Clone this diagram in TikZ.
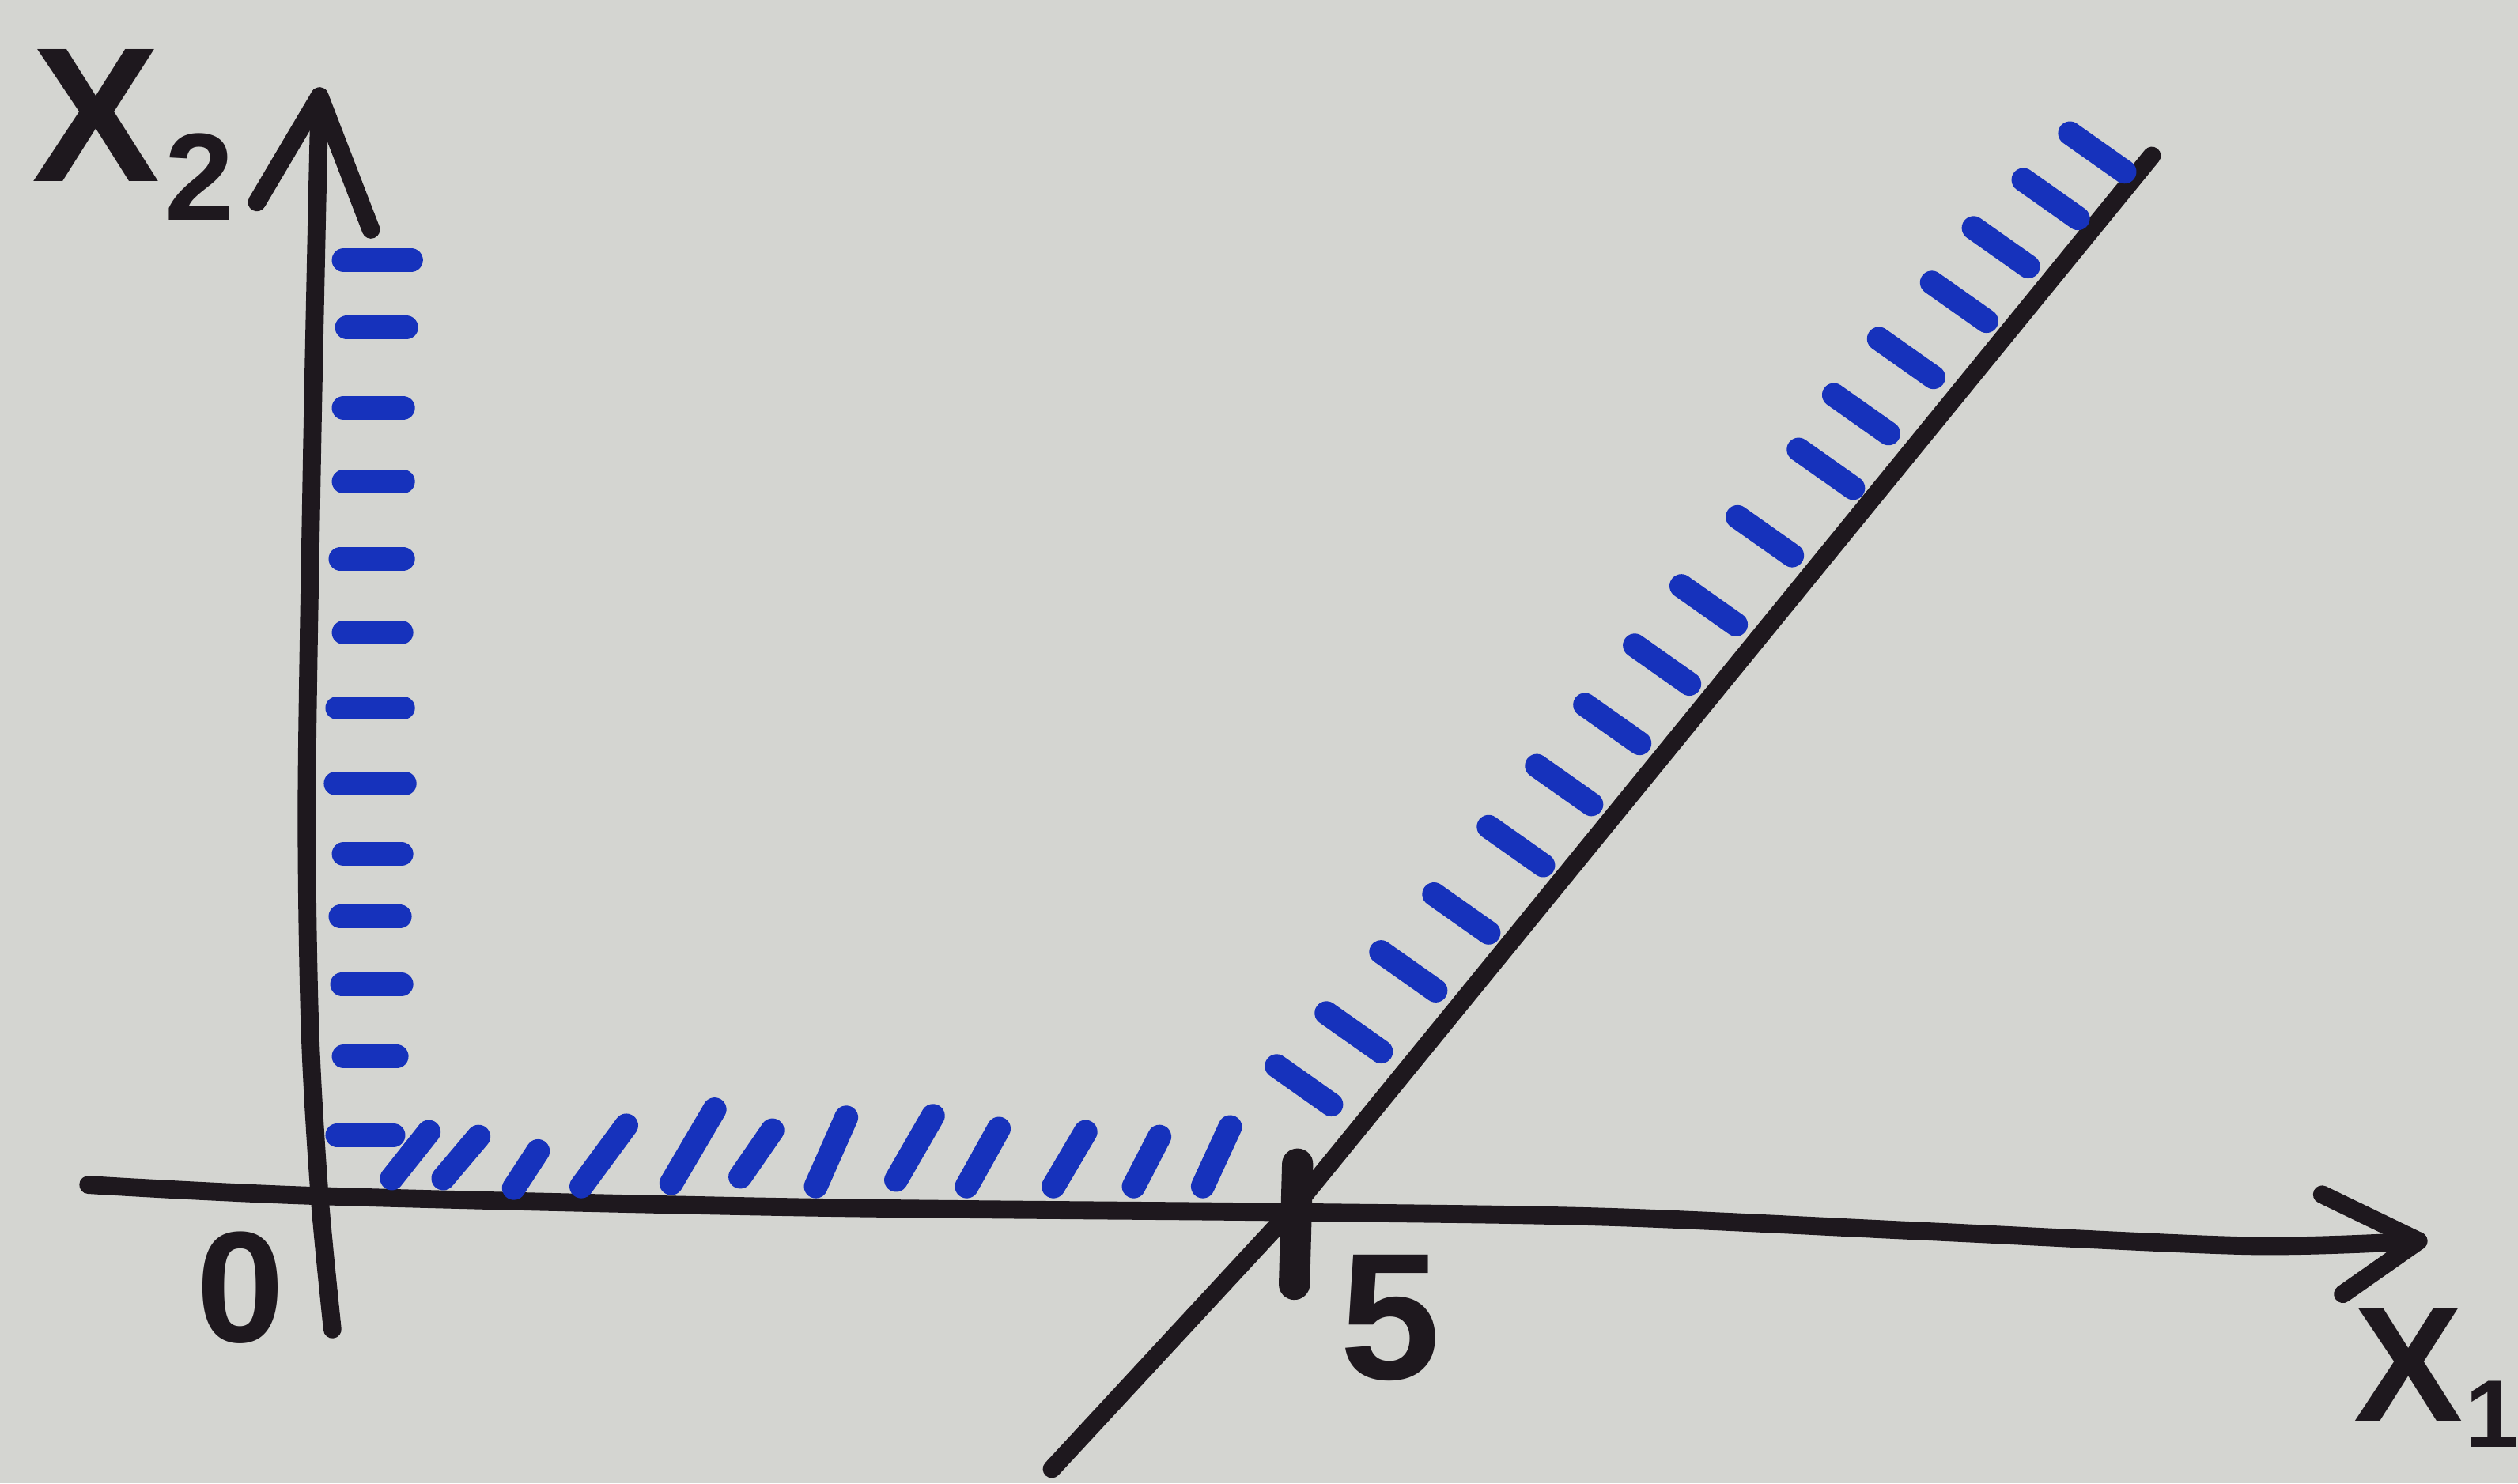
\documentclass[tikz,border=0pt]{standalone}
\usepackage{fontspec}
\setmainfont{Liberation Sans}
\definecolor{paper}{RGB}{212,213,209}
\definecolor{ink}{RGB}{30,24,30}
\definecolor{marker}{RGB}{22,50,188}
\begin{document}
\begin{tikzpicture}[x=0.01cm,y=-0.01cm, line cap=round, line join=round,
  axis/.style={ink, line width=3.2pt},
  hatch/.style={marker, line width=4.2pt},
  lbl/.style={ink, inner sep=0pt, font=\bfseries\fontsize{34}{34}\selectfont},
  sublbl/.style={ink, inner sep=0pt, font=\bfseries\fontsize{22}{22}\selectfont},
  num/.style={ink, inner sep=0pt, font=\bfseries\fontsize{28}{28}\selectfont}]
\fill[paper] (0,0) rectangle (1568,924);
\useasboundingbox (0,0) rectangle (1568,924);

% axes
\coordinate (x2tip) at (199,60);
\coordinate (x1tip) at (1506,773);
\draw[axis] plot[smooth] coordinates {(207,828) (199,745) (193,640) (191,500) (194,300) (197,150) (x2tip)};
\draw[axis] (160,126) -- (x2tip) -- (231,143);
\draw[axis] plot[smooth] coordinates {(55,738) (200,745) (500,752) (800,755) (1000,758) (1200,767) (1400,776) (x1tip)};
\draw[axis] (1446,744) -- (x1tip) -- (1459,806);
% constraint line
\coordinate (lbot) at (655,915);
\coordinate (lmid) at (806,752);
\coordinate (ltop) at (1340,97);
\draw[axis] (lbot) -- (lmid) -- (ltop);
% tick at 5
\draw[ink, line width=5.5pt] (808,725) -- (806,800);

% hatching along x2 axis
\foreach \y/\a/\b in {162/214/256,204/216/253,254/214/251,300/214/251,348/212/251,394/214/250,441/210/251,488/209/252,532/214/250,571/212/249,613/213/250,658/214/247,707/210/245}
  \draw[hatch] (\a,\y) -- (\b,\y);
% hatching along x1 axis
\foreach \xa/\ya/\xb/\yb in {244/734/267/705, 276/734/298/708, 320/740/335/717, 362/739/390/701, 418/737/445/691, 461/733/481/704, 508/739/527/696, 558/735/581/695, 602/739/622/703, 656/739/676/705, 706/739/722/708, 749/739/766/702}
  \draw[hatch] (\xa,\ya) -- (\xb,\yb);
% hatching along the slanted line
\foreach \cx/\cy in {812/676, 843/643, 877/605, 910/569, 944/527, 974/489, 1004/451, 1035/414, 1064/377, 1099/334, 1137/292, 1159/258, 1187/223, 1220/188, 1246/154, 1277/124, 1306/95}
  \draw[hatch] (\cx-17,\cy-12) -- (\cx+17,\cy+12);

% labels
\node[lbl] (x2lbl) at (60,72) {X};
\node[sublbl] (x2sub) at (124,110) {2};
\node[num] (zero) at (150,802) {0};
\node[num, font=\bfseries\fontsize{32}{32}\selectfont] (fivelbl) at (866,821) {5};
\node[lbl, font=\bfseries\fontsize{29}{29}\selectfont] (x1lbl) at (1500,850) {X};
\node[sublbl, font=\bfseries\fontsize{17}{17}\selectfont] (x1sub) at (1552,881) {1};
\end{tikzpicture}
\end{document}
